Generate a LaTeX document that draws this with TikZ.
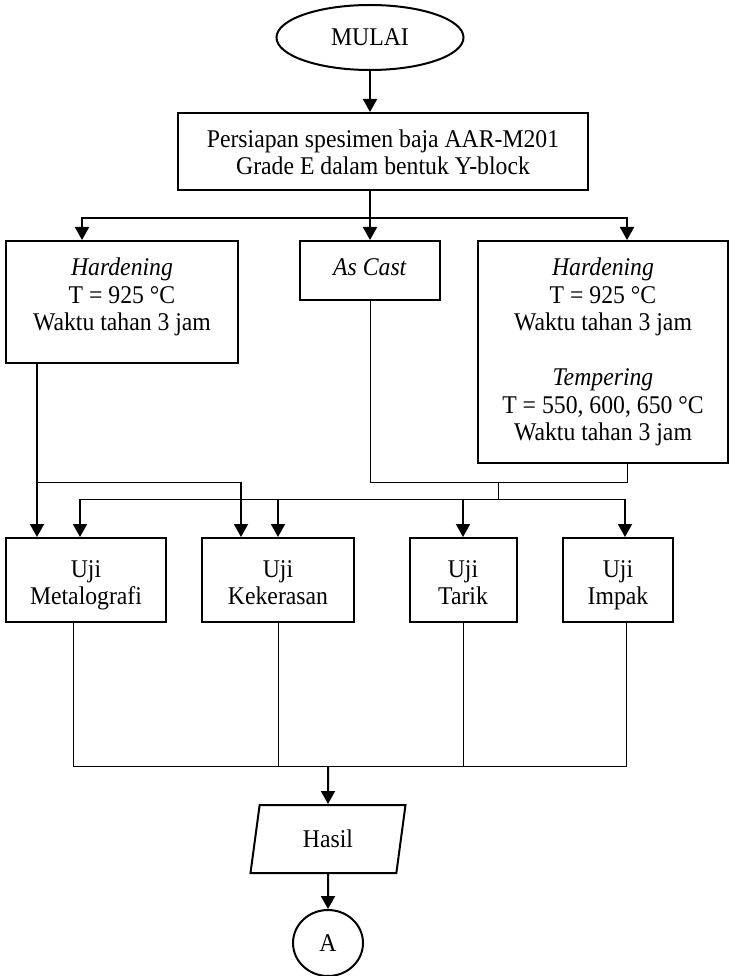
\documentclass[tikz,border=0pt]{standalone}
\usepackage{fontspec}
\setmainfont[FakeStretch=0.93]{Liberation Serif}
\usetikzlibrary{arrows.meta,shapes.geometric}
\tikzstyle{proc}=[draw, line width=2pt, align=center, inner sep=0pt, font=\fontsize{25.5}{27.5}\selectfont]
\tikzstyle{term}=[proc, ellipse]
\tikzstyle{io}=[proc, trapezium, trapezium left angle=63, trapezium right angle=117, trapezium stretches body]
\tikzstyle{test}=[proc, minimum height=84pt, text height=51pt, text depth=2pt]
\tikzstyle{arr}=[line width=2pt, -{Triangle[width=14pt,length=13pt]}]
\tikzstyle{wire}=[line width=1pt]

\begin{document}
\begin{tikzpicture}[x=1pt,y=-1pt]
				\useasboundingbox (0,0) rectangle (737,976);
				% start and preparation
				\node[term, minimum width=187pt, minimum height=65pt] (mulai) at (370,37.5) {MULAI};
				\node[proc, minimum width=410pt, minimum height=77pt, text height=47pt, text depth=0pt] (persiapan) at (383,151.5) {Persiapan spesimen baja AAR-M201\\Grade E dalam bentuk Y-block};
				% treatments
				\node[proc, minimum width=232pt, minimum height=122pt, text depth=15pt] (hardA) at (122,302) {\textit{Hardening}\\T = 925 °C\\Waktu tahan 3 jam};
				\node[proc, minimum width=140pt, minimum height=59pt, text depth=6pt] (ascast) at (370,270.5) {\textit{As Cast}};
				\node[proc, minimum width=250pt, minimum height=222pt] (hardB) at (603,352) {\textit{Hardening}\\T = 925 °C\\Waktu tahan 3 jam\\[27.5pt]\textit{Tempering}\\T = 550, 600, 650 °C\\Waktu tahan 3 jam};
				% tests
				\node[test, minimum width=160pt] (metalo) at (86,580) {Uji\\Metalografi};
				\node[test, minimum width=152pt] (keras) at (278,580) {Uji\\Kekerasan};
				\node[test, minimum width=107pt] (tarik) at (463,580) {Uji\\Tarik};
				\node[test, minimum width=110pt] (impak) at (618,580) {Uji\\Impak};
				% result
				\node[io, minimum width=155pt, minimum height=68pt] (hasil) at (328,839) {Hasil};
				\node[term, minimum width=70pt, minimum height=66pt] (A) at (328,943) {A};

				\coordinate (split) at (370,218);
				\coordinate (j1) at (37,482);
				\coordinate (j2) at (241,482);
				\coordinate (j3) at (498,482);
				\coordinate (j4) at (498,499);
				\coordinate (bl) at (80,499);
				\coordinate (br) at (625,499);
				\coordinate (merge) at (328,766);

				\draw[arr] (mulai.south) -- (mulai.south |- persiapan.north);
				\draw[arr] (mulai.south |- persiapan.south) -- (ascast.north);
				\draw[arr] (split) -| ([xshift=-40pt]hardA.north);
				\draw[arr] (split) -| ([xshift=24pt]hardB.north);
				% hardening branch
				\draw[arr] (j1 |- hardA.south) -- (j1 |- metalo.north);
				\draw[wire] (j1) -- (j2);
				\draw[arr] (j2) -- (j2 |- keras.north);
				% as cast and tempering branch
				\draw[wire] (ascast.south) |- (j3);
				\draw[wire] ([xshift=24pt]hardB.south) |- (j3);
				\draw[wire] (j3) -- (j4);
				\draw[wire] (bl) -- (br);
				\draw[arr] (bl) -- (bl |- metalo.north);
				\draw[arr] (keras.north |- bl) -- (keras.north);
				\draw[arr] (tarik.north |- bl) -- (tarik.north);
				\draw[arr] (br) -- (br |- impak.north);
				% collect results
				\draw[wire] ([xshift=-13pt]metalo.south) |- (merge);
				\draw[wire] ([xshift=8pt]impak.south) |- (merge);
				\draw[wire] (keras.south) -- (keras.south |- merge);
				\draw[wire] (tarik.south) -- (tarik.south |- merge);
				\draw[arr] (merge) -- (hasil.north);
				\draw[arr] (hasil.south) -- (A.north);
			\end{tikzpicture}
\end{document}
